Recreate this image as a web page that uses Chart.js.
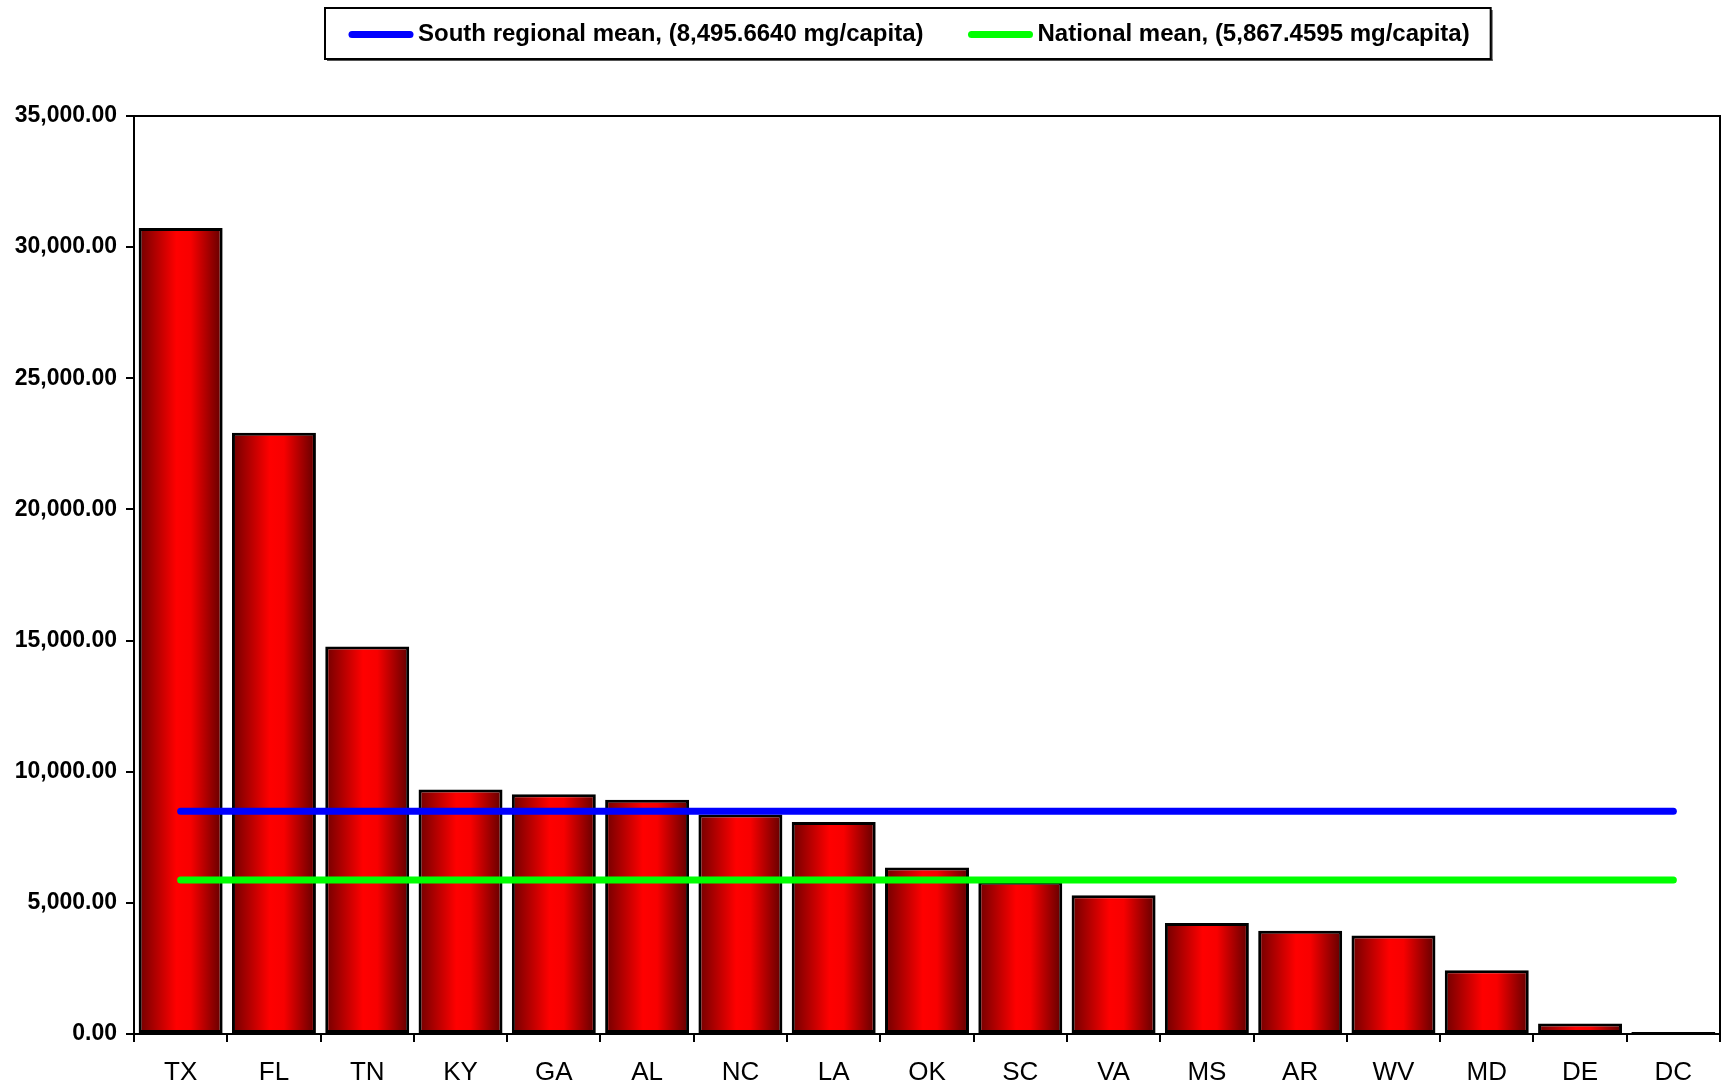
<!DOCTYPE html>
<html>
<head>
<meta charset="utf-8">
<script src="https://cdn.jsdelivr.net/npm/chart.js@4.4.1/dist/chart.umd.min.js"></script>
<style>
  html, body { margin: 0; padding: 0; background: #fff; }
  #wrap { width: 1723px; height: 1086px; }
</style>
</head>
<body>
<div id="wrap"><canvas id="stateChart" width="1723" height="1086"></canvas></div>
<script>
// data (mg/capita)
const states = ["TX", "FL", "TN", "KY", "GA", "AL", "NC", "LA", "OK", "SC", "VA", "MS", "AR", "WV", "MD", "DE", "DC"];
const stateValues = [30730, 22920, 14770, 9320, 9140, 8930, 8370, 8080, 6350, 5800, 5290, 4230, 3940, 3760, 2430, 400, 80];
const southMean = 8495.6640;
const nationalMean = 5867.4595;
const southLabel = "South regional mean, (8,495.6640 mg/capita)";
const nationalLabel = "National mean, (5,867.4595 mg/capita)";
const yTicks = [0, 5000, 10000, 15000, 20000, 25000, 30000, 35000];

// mean lines run from first to last state
const first = states[0], last = states[states.length - 1];

// red cylinder look for each bar
function barGradient(ctx) {
  const chart = ctx.chart;
  const area = chart.chartArea;
  if (!area) return "#ff0000";
  const x = chart.scales.x.getPixelForValue(ctx.dataIndex);
  const w = area.width / states.length * 0.9;
  const g = chart.ctx.createLinearGradient(x - w / 2, 0, x + w / 2, 0);
  g.addColorStop(0, "#700000");
  g.addColorStop(0.45, "#ff0000");
  g.addColorStop(0.62, "#f80000");
  g.addColorStop(1, "#600000");
  return g;
}

// box round the plot + hand drawn legend
const framePlugin = {
  id: "frame",
  beforeDatasetsDraw(chart) {
    const { ctx, chartArea: a } = chart;
    ctx.save();
    ctx.strokeStyle = "#000";
    ctx.lineWidth = 2;
    ctx.beginPath();
    ctx.moveTo(a.left - 8, a.top);
    ctx.lineTo(a.right, a.top);
    ctx.lineTo(a.right, a.bottom);
    ctx.stroke();
    ctx.restore();
  },
  afterDraw(chart) {
    const ctx = chart.ctx;
    const items = chart.data.datasets.filter(d => d.type === "line");
    ctx.save();
    ctx.font = "bold 24px 'Liberation Sans', Arial, sans-serif";
    ctx.textBaseline = "middle";
    const top = 8, h = 51, cy = top + h / 2 + 1;
    let x = 352;
    items.forEach((d, i) => {
      ctx.strokeStyle = d.borderColor;
      ctx.lineWidth = 7;
      ctx.lineCap = "round";
      ctx.beginPath();
      ctx.moveTo(x, cy);
      ctx.lineTo(x + 58, cy);
      ctx.stroke();
      x += 66;
      ctx.fillStyle = "#000";
      ctx.fillText(d.label, x, cy);
      x += ctx.measureText(d.label).width;
      if (i < items.length - 1) x += 48;
    });
    const left = 325, right = x + 21;
    ctx.fillStyle = "#555";
    ctx.fillRect(left + 2, top + h, right - left, 2);
    ctx.fillRect(right, top + 2, 2, h);
    ctx.strokeStyle = "#000";
    ctx.lineWidth = 2;
    ctx.strokeRect(left, top, right - left, h);
    ctx.restore();
  }
};

const ctx = document.getElementById("stateChart").getContext("2d");
new Chart(ctx, {
  data: {
    labels: states,
    datasets: [
      {
        type: "line",
        label: southLabel,
        data: [{ x: first, y: southMean }, { x: last, y: southMean }],
        borderColor: "#0000ff",
        borderWidth: 7,
        borderCapStyle: "round",
        pointRadius: 0,
        order: 0
      },
      {
        type: "line",
        label: nationalLabel,
        data: [{ x: first, y: nationalMean }, { x: last, y: nationalMean }],
        borderColor: "#00ff00",
        borderWidth: 7,
        borderCapStyle: "round",
        pointRadius: 0,
        order: 1
      },
      {
        type: "bar",
        label: "mg/capita",
        data: stateValues,
        backgroundColor: barGradient,
        borderColor: "#000",
        borderWidth: 3,
        borderSkipped: false,
        barPercentage: 0.9,
        categoryPercentage: 1.0,
        order: 2
      }
    ]
  },
  options: {
    responsive: false,
    animation: false,
    layout: { padding: { top: 116, right: 3, left: 0, bottom: 0 } },
    plugins: {
      legend: { display: false },
      tooltip: { enabled: false }
    },
    scales: {
      x: {
        type: "category",
        offset: true,
        grid: { offset: true, drawOnChartArea: false, color: "#000", lineWidth: 2, tickLength: 8 },
        border: { color: "#000", width: 2 },
        ticks: {
          color: "#000",
          padding: 15,
          font: { family: "'Liberation Sans Narrow', 'Liberation Sans', Arial, sans-serif", size: 26 }
        },
        afterFit(scale) { scale.height = 52; }
      },
      y: {
        min: 0,
        max: 35000,
        afterBuildTicks(scale) { scale.ticks = yTicks.map(v => ({ value: v })); },
        grid: { drawOnChartArea: false, color: "#000", lineWidth: 2, tickLength: 8 },
        border: { color: "#000", width: 2 },
        ticks: {
          color: "#000",
          padding: 9,
          font: { family: "'Liberation Sans', Arial, sans-serif", size: 23, weight: "bold" },
          callback: v => v.toLocaleString("en-US", { minimumFractionDigits: 2, maximumFractionDigits: 2 })
        },
        afterFit(scale) { scale.width = 134; }
      }
    }
  },
  plugins: [framePlugin]
});
</script>
</body>
</html>
